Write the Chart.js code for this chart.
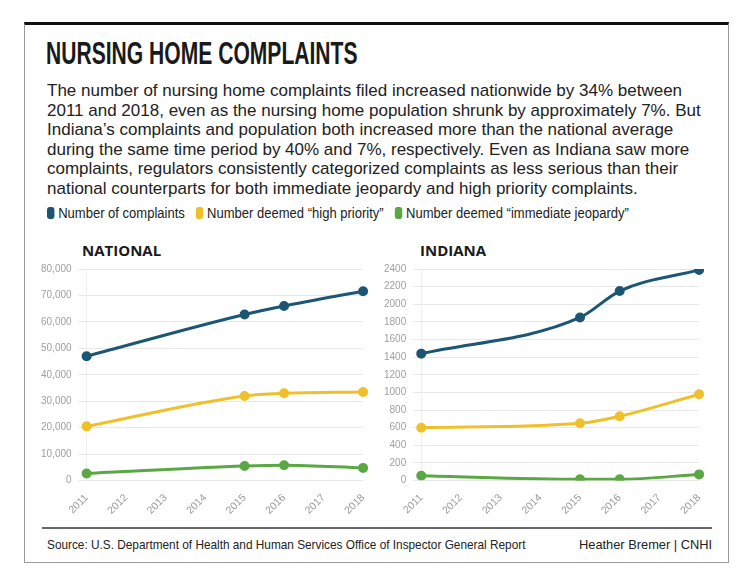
<!DOCTYPE html>
<html lang="en">
<head>
    <meta charset="UTF-8">
    <title>Nursing Home Complaints</title>
    <script src="https://cdn.jsdelivr.net/npm/chart.js"></script>
    <style>
        body { margin: 0; width: 750px; height: 584px; background: #fff; position: relative; overflow: hidden; }
        .frame { position: absolute; left: 24px; top: 22px; width: 703px; height: 537px; border: 1px solid #9a9a9a; border-top: 3px solid #111; }
        .narrow { position: absolute; white-space: nowrap; transform-origin: 0 0; }
        .title { left: 46px; top: 36px; font: bold 31px 'Liberation Sans', sans-serif; color: #1a1a1a; transform: scaleX(0.68); }
        .intro { left: 47px; top: 81px; font: 17px/19.6px 'Liberation Sans', sans-serif; color: #222; }
        .legend { left: 47px; top: 205px; font: 14px 'Liberation Sans', sans-serif; color: #222; transform: scaleX(0.93); }
        .legend span.sw { display: inline-block; width: 8px; height: 12px; border-radius: 3px; vertical-align: -1px; margin-right: 4px; }
        .legend span.item { margin-right: 12px; }
        .sub { position: absolute; top: 240px; font: bold 15px 'Open Sans', sans-serif; color: #1a1a1a; }
        .box { position: absolute; top: 256px; height: 264px; }
        .rule { position: absolute; left: 42px; top: 527px; width: 670px; border-top: 2px solid #666; }
        .foot { top: 537px; font: 13.5px 'Liberation Sans', sans-serif; color: #222; }
    </style>
</head>
<body>
    <div class="frame"></div>
    <div class="narrow title">NURSING HOME COMPLAINTS</div>
    <div class="narrow intro">The number of nursing home complaints filed increased nationwide by 34% between<br>2011 and 2018, even as the nursing home population shrunk by approximately 7%. But<br>Indiana’s complaints and population both increased more than the national average<br>during the same time period by 40% and 7%, respectively. Even as Indiana saw more<br>complaints, regulators consistently categorized complaints as less serious than their<br>national counterparts for both immediate jeopardy and high priority complaints.</div>
    <div class="narrow legend" id="legend"></div>
    <div class="sub" style="left:82px">NATIONAL</div>
    <div class="sub" style="left:420px">INDIANA</div>
    <div class="box" style="left:34px; width:341px"><canvas id="national" width="341" height="264"></canvas></div>
    <div class="box" style="left:377px; width:334px"><canvas id="indiana" width="334" height="264"></canvas></div>
    <div class="rule"></div>
    <div class="narrow foot" style="left:47px; transform: scaleX(0.875)">Source: U.S. Department of Health and Human Services Office of Inspector General Report</div>
    <div class="narrow foot" style="right:38px; transform-origin: 100% 0; transform: scaleX(0.95)">Heather Bremer | CNHI</div>

    <script>
        // years on the x axis; only 2011, 2015, 2016 and 2018 have reported values
        const years = ['2011', '2012', '2013', '2014', '2015', '2016', '2017', '2018'];
        const seriesNames = ['Number of complaints', 'Number deemed “high priority”', 'Number deemed “immediate jeopardy”'];
        const seriesColors = ['#1d5674', '#f0c02c', '#5aa843'];

        const nationalComplaints = [47000, null, null, null, 62800, 66000, null, 71600];
        const nationalHighPriority = [20500, null, null, null, 32000, 33000, null, 33500];
        const nationalJeopardy = [2700, null, null, null, 5500, 5800, null, 4800];

        const indianaComplaints = [1440, null, null, null, 1850, 2150, null, 2390];
        const indianaHighPriority = [600, null, null, null, 650, 730, null, 980];
        const indianaJeopardy = [55, null, null, null, 15, 15, null, 70];

        const nationalTicks = { max: 80000, step: 10000 };
        const indianaTicks = { max: 2400, step: 200 };

        // html legend shared by both charts
        document.getElementById('legend').innerHTML = seriesNames.map((name, i) =>
            '<span class="item"><span class="sw" style="background:' + seriesColors[i] + '"></span>' + name + '</span>'
        ).join('');

        function makeChart(id, values, ticks, useComma) {
            const ctx = document.getElementById(id).getContext('2d');
            return new Chart(ctx, {
                type: 'line',
                data: {
                    labels: years,
                    datasets: values.map((data, i) => ({
                        label: seriesNames[i],
                        data: data,
                        borderColor: seriesColors[i],
                        backgroundColor: seriesColors[i],
                        borderWidth: 3,
                        pointRadius: 3.5,
                        spanGaps: true,
                        cubicInterpolationMode: 'monotone',
                    }))
                },
                options: {
                    responsive: false,
                    animation: false,
                    layout: { padding: { left: 0, right: 8, top: 4, bottom: 0 } },
                    plugins: { legend: { display: false }, tooltip: { enabled: false } },
                    scales: {
                        x: {
                            grid: { display: false },
                            border: { display: false },
                            ticks: {
                                color: '#9a9a9a',
                                font: { family: 'Liberation Sans', size: 10.5 },
                                maxRotation: 45, minRotation: 45,
                            },
                        },
                        y: {
                            min: 0, max: ticks.max,
                            grid: { color: '#e8e8e8', lineWidth: 1 },
                            border: { display: true, color: '#eeeeee' },
                            ticks: {
                                stepSize: ticks.step,
                                color: '#a0a0a0',
                                padding: 7,
                                font: { family: 'Liberation Sans', size: 10 },
                                callback: v => useComma ? v.toLocaleString('en-US') : String(v),
                            },
                        },
                    },
                },
            });
        }

        makeChart('national', [nationalComplaints, nationalHighPriority, nationalJeopardy], nationalTicks, true);
        makeChart('indiana', [indianaComplaints, indianaHighPriority, indianaJeopardy], indianaTicks, false);
    </script>
</body>
</html>
